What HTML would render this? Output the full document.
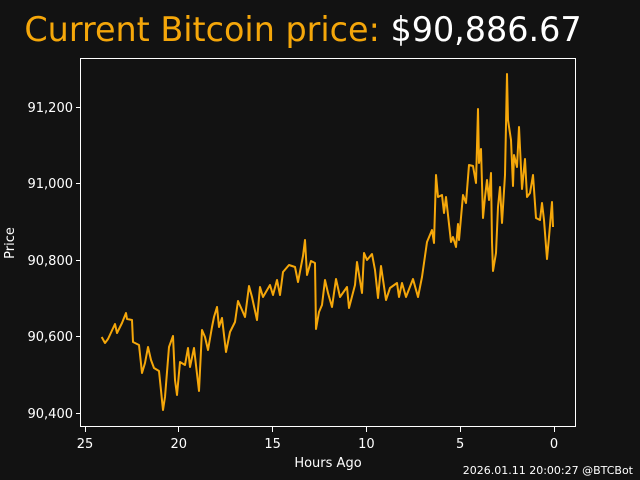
<!DOCTYPE html>
<html><head><style>body{margin:0;background:#121212;}svg{display:block}</style></head><body>
<svg width="640" height="480" xmlns="http://www.w3.org/2000/svg" font-family="DejaVu Sans, Liberation Sans, sans-serif">
<rect width="640" height="480" fill="#121212"/>
<text x="303" y="41" font-size="33.4" text-anchor="middle" fill="#f5a70a">Current Bitcoin price: <tspan fill="#ffffff">$90,886.67</tspan></text>
<polyline fill="none" stroke="#f5a70a" stroke-width="2" stroke-linejoin="round" points="101.7,337 105,343 108,339 115,324 117,333 122,323 126,313 127,319 132,320 133,342 139,345 142,373 145,363 148,347 151,360 154,368 159,371 163,410 165,397 169,347 173,336 175,380 177,395 180,362 185,365 188,348 190,367 194,348 199,391 202,330 205,337 208,350 212,327 214,317 217,307 219,327 222,318 226,352 230,332 235,322 238,301 242,310 245,317 249,286 252,297 257,320 260,287 263,297 270,285 273,295 277,280 280,295 283,272 289,265 295,267 298,282 303,256 305,240 307,275 311,261 315,263 316,329 319,312 322,305 325,280 328,293 332,307 336,279 340,297 347,287 349,308 355,285 357,262 362,293 364,253 367,260 372,254 375,270 378,298 381,266 386,300 390,288 397,283 399,297 402,283 406,297 413,279 418,297 422,277 427,242 432,230 434,243 436,175 438,197 442,195 444,213 446,197 451,242 453,237 456,247 458,224 459,240 463,195 466,203 469,165 473,166 476,183 478,109 479,163 481,149 483,218 485,197 487,180 489,200 491,173 492,242 493,271 496,253 498,207 500,187 502,223 505,175 507,74 508,120 511,140 513,186 514,155 517,167 519,127 522,189 525,159 527,197 530,193 533,175 536,218 540,220 542,203 544,220 547,259 549,237 552,202 553,227"/>
<rect x="80.5" y="58.5" width="495" height="368" fill="none" stroke="#ffffff" stroke-width="1"/>
<g stroke="#fff" stroke-width="1">
<line x1="76" x2="81" y1="107.5" y2="107.5"/><line x1="76" x2="81" y1="183.5" y2="183.5"/><line x1="76" x2="81" y1="260.5" y2="260.5"/><line x1="76" x2="81" y1="336.5" y2="336.5"/><line x1="76" x2="81" y1="413.5" y2="413.5"/>
<line y1="427" y2="432" x1="85.5" x2="85.5"/><line y1="427" y2="432" x1="178.5" x2="178.5"/><line y1="427" y2="432" x1="272.5" x2="272.5"/><line y1="427" y2="432" x1="366.5" x2="366.5"/><line y1="427" y2="432" x1="460.5" x2="460.5"/><line y1="427" y2="432" x1="554.5" x2="554.5"/>
</g>
<g fill="#fff" font-size="13" text-anchor="end">
<text x="73" y="112">91,200</text><text x="73" y="188">91,000</text><text x="73" y="265">90,800</text><text x="73" y="341">90,600</text><text x="73" y="418">90,400</text>
</g>
<g fill="#fff" font-size="13" text-anchor="middle">
<text x="85" y="448">25</text><text x="178.8" y="448">20</text><text x="272.6" y="448">15</text><text x="366.4" y="448">10</text><text x="460.2" y="448">5</text><text x="554" y="448">0</text>
<text x="328" y="467">Hours Ago</text>
<text transform="translate(14,243) rotate(-90)">Price</text>
</g>
<text x="633" y="474" font-size="11" fill="#fff" text-anchor="end">2026.01.11 20:00:27 @BTCBot</text>
</svg>
</body></html>
